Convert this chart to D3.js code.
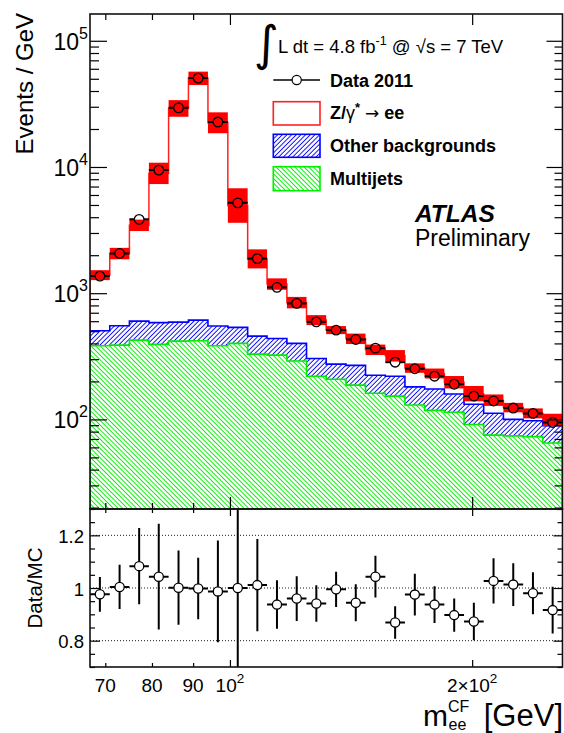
<!DOCTYPE html>
<html>
<head>
<meta charset="utf-8">
<script src="https://cdn.jsdelivr.net/npm/d3@7"></script>
<style>
  html, body { margin: 0; padding: 0; background: #fff; }
  svg { display: block; font-family: "Liberation Sans", Arial, Helvetica, sans-serif; }
</style>
</head>
<body>
<svg id="chart" width="564" height="733"></svg>
<script>
// ---- binning in m_ee (GeV), equal steps in log(m) ----
const binEdges = [67.0, 70.9, 75.0, 79.3, 83.9, 88.8, 93.9, 99.4, 105.2, 111.2, 117.7, 124.5,
                  131.7, 139.4, 147.4, 156.0, 165.0, 174.6, 184.7, 195.4, 206.7, 218.7, 231.4, 244.8, 259.0];

// ---- events / GeV per bin ----
const dataEvents = [1366, 2067, 3845, 9450, 29440, 50600, 22700, 5200, 1880, 1112, 830, 593,
                    510, 430, 367, 284, 252, 220, 190, 153, 140, 123, 111.6, 94.5];
const multijets  = [383, 388, 425, 393, 417, 420, 383, 400, 329, 323, 290, 220,
                    208, 187, 161, 153, 130, 118, 114, 91, 75, 74, 73, 65];
const otherBkg   = [121, 164, 176, 192, 173, 192, 166, 136, 128, 115, 110, 84,
                    66, 81, 63, 67, 51, 56, 45, 41, 37, 26, 24.5, 24];
const zee        = [886, 1508, 2849, 8315, 28510, 49790, 21850, 4414, 1413, 743, 442, 308,
                    236, 167, 132, 99, 74, 57, 38, 28, 30, 24, 14.1, 10];
// relative uncertainty of the total prediction
const mcRelUnc   = [0.095, 0.11, 0.11, 0.215, 0.164, 0.13, 0.21, 0.37, 0.19, 0.11, 0.11, 0.095,
                    0.076, 0.10, 0.10, 0.11, 0.09, 0.095, 0.12, 0.15, 0.11, 0.09, 0.095, 0.12];

// ---- Data/MC ratio ----
const ratio    = [0.976, 1.004, 1.083, 1.043, 1.001, 0.998, 0.987, 1.000, 1.011, 0.937, 0.960, 0.941,
                  0.995, 0.944, 1.043, 0.869, 0.975, 0.937, 0.897, 0.873, 1.027, 1.013, 0.980, 0.916];
const ratioErr = [0.066, 0.084, 0.145, 0.201, 0.141, 0.117, 0.193, 0.45, 0.175, 0.092, 0.085, 0.069,
                  0.067, 0.070, 0.079, 0.062, 0.079, 0.070, 0.063, 0.071, 0.086, 0.081, 0.080, 0.089];

// ---- axis ticks ----
const xTicksLong  = [100, 200];
const xTicksShort = [70, 80, 90];
const xTickLabels = [[70, "70"], [80, "80"], [90, "90"], [100, "10", "2"], [200, "2\u00d710", "2"]];
const yDecades    = [100, 1000, 10000, 100000];
const ratioLabels = [0.8, 1.0, 1.2];
const ratioTicks  = [0.7, 0.75, 0.8, 0.85, 0.9, 0.95, 1.0, 1.05, 1.1, 1.15, 1.2, 1.25, 1.3];

// ---- legend ----
const legendLumi = { pre: "L dt = 4.8 fb", sup: "-1", post: " @ \u221As = 7 TeV" };

// ---------------------------------------------------------------
const svg = d3.select("#chart");
const plotL = 90, plotR = 562.5, mainT = 14, mainB = 509, ratioB = 667;

const x  = d3.scaleLog().domain([binEdges[0], binEdges[binEdges.length - 1]]).range([plotL, plotR]);
const y  = d3.scaleLog().domain([19.5, 1.63e5]).range([mainB, mainT]);
const yr = d3.scaleLinear().domain([0.7, 1.3]).range([ratioB, mainB]);

const rows = dataEvents.map((d, i) => ({
  lo: binEdges[i], hi: binEdges[i + 1], data: d,
  multijets: multijets[i], other: otherBkg[i], zee: zee[i]
}));
const stacked = d3.stack().keys(["multijets", "other", "zee"])(rows);
const greenTop = stacked[0].map(s => s[1]);
const blueTop  = stacked[1].map(s => s[1]);
const total    = stacked[2].map(s => s[1]);

// hatch patterns
const defs = svg.append("defs");
function hatch(id, color, angle) {
  const p = defs.append("pattern").attr("id", id)
    .attr("patternUnits", "userSpaceOnUse").attr("width", 3.3).attr("height", 10)
    .attr("patternTransform", `rotate(${angle})`);
  p.append("line").attr("x1", 1.2).attr("x2", 1.2).attr("y1", 0).attr("y2", 10)
    .attr("stroke", color).attr("stroke-width", 0.95);
}
hatch("hatchBlue", "#0000ff", 45);
hatch("hatchGreen", "#00ee00", -45);

defs.append("clipPath").attr("id", "clipMain").append("rect")
  .attr("x", plotL).attr("y", mainT).attr("width", plotR - plotL).attr("height", mainB - mainT);
defs.append("clipPath").attr("id", "clipRatio").append("rect")
  .attr("x", plotL).attr("y", mainB).attr("width", plotR - plotL).attr("height", ratioB - mainB);

// step helpers: points at each low edge + closing high edge
function stepPoints(vals) {
  const pts = vals.map((v, i) => [binEdges[i], v]);
  pts.push([binEdges[binEdges.length - 1], vals[vals.length - 1]]);
  return pts;
}
const stepLine = d3.line().curve(d3.curveStepAfter).x(d => x(d[0])).y(d => d[1]);

const main = svg.append("g").attr("clip-path", "url(#clipMain)");

// Z/gamma* -> ee (top of stack) outline
{
  const pts = stepPoints(total).map(p => [p[0], y(p[1])]);
  pts.unshift([binEdges[0], y(blueTop[0])]);
  pts.push([binEdges[binEdges.length - 1], y(blueTop[blueTop.length - 1])]);
  main.append("path").attr("d", stepLine(pts))
    .attr("fill", "none").attr("stroke", "#ff2020").attr("stroke-width", 1.5);
}

// other backgrounds band (between multijet top and its own top)
const bandArea = d3.area().curve(d3.curveStepAfter)
  .x(d => x(d.e)).y0(d => y(d.lo)).y1(d => y(d.hi));
const blueBand = greenTop.map((g, i) => ({ e: binEdges[i], lo: g, hi: blueTop[i] }));
blueBand.push({ e: binEdges[binEdges.length - 1], lo: greenTop[greenTop.length - 1], hi: blueTop[blueTop.length - 1] });
main.append("path").attr("d", bandArea(blueBand)).attr("fill", "url(#hatchBlue)");
{
  const pts = stepPoints(blueTop).map(p => [p[0], y(p[1])]);
  pts.unshift([binEdges[0], mainB + 3]);
  pts.push([binEdges[binEdges.length - 1], mainB + 3]);
  main.append("path").attr("d", stepLine(pts))
    .attr("fill", "none").attr("stroke", "#0000ff").attr("stroke-width", 1.6);
}

// multijets
const greenBand = greenTop.map((g, i) => ({ e: binEdges[i], lo: 10, hi: g }));
greenBand.push({ e: binEdges[binEdges.length - 1], lo: 10, hi: greenTop[greenTop.length - 1] });
main.append("path").attr("d", bandArea(greenBand)).attr("fill", "url(#hatchGreen)");
{
  const pts = stepPoints(greenTop).map(p => [p[0], y(p[1])]);
  pts.unshift([binEdges[0], mainB + 3]);
  pts.push([binEdges[binEdges.length - 1], mainB + 3]);
  main.append("path").attr("d", stepLine(pts))
    .attr("fill", "none").attr("stroke", "#00ee00").attr("stroke-width", 1.6);
}

// uncertainty band on the total prediction
main.selectAll("rect.unc").data(rows).enter().append("rect").attr("class", "unc")
  .attr("x", d => x(d.lo))
  .attr("width", d => x(d.hi) - x(d.lo))
  .attr("y", (d, i) => y(total[i] * (1 + mcRelUnc[i])))
  .attr("height", (d, i) => y(total[i] / (1 + mcRelUnc[i])) - y(total[i] * (1 + mcRelUnc[i])))
  .attr("fill", "#ff0000");

// data points
const R = 4.8;
const dataG = main.append("g");
rows.forEach(d => {
  const cx = x(Math.sqrt(d.lo * d.hi)), cy = y(d.data);
  dataG.append("line").attr("x1", x(d.lo)).attr("x2", cx - R).attr("y1", cy).attr("y2", cy)
    .attr("stroke", "#000").attr("stroke-width", 2);
  dataG.append("line").attr("x1", cx + R).attr("x2", x(d.hi)).attr("y1", cy).attr("y2", cy)
    .attr("stroke", "#000").attr("stroke-width", 2);
  dataG.append("circle").attr("cx", cx).attr("cy", cy).attr("r", R)
    .attr("fill", "none").attr("stroke", "#000").attr("stroke-width", 1.3);
});

// ---------------- ratio panel ----------------
const rg = svg.append("g");
ratioLabels.forEach(v => {
  rg.append("line").attr("x1", plotL).attr("x2", plotR).attr("y1", yr(v)).attr("y2", yr(v))
    .attr("stroke", "#000").attr("stroke-width", 0.9).attr("stroke-dasharray", "1,2");
});
const rpts = svg.append("g").attr("clip-path", "url(#clipRatio)");
rows.forEach((d, i) => {
  const cx = x(Math.sqrt(d.lo * d.hi)), cy = yr(ratio[i]);
  const r = 4.6;
  rpts.append("line").attr("x1", x(d.lo)).attr("x2", x(d.hi)).attr("y1", cy).attr("y2", cy)
    .attr("stroke", "#000").attr("stroke-width", 2);
  rpts.append("line").attr("x1", cx).attr("x2", cx)
    .attr("y1", yr(ratio[i] + ratioErr[i])).attr("y2", yr(ratio[i] - ratioErr[i]))
    .attr("stroke", "#000").attr("stroke-width", 2);
  rpts.append("circle").attr("cx", cx).attr("cy", cy).attr("r", r)
    .attr("fill", "#fff").attr("stroke", "#000").attr("stroke-width", 1.3);
});

// ---------------- axes ----------------
function ticks(axisGen, tx, ty, size) {
  const g = svg.append("g").attr("transform", `translate(${tx},${ty})`)
    .call(axisGen.tickSize(size).tickFormat(""));
  g.select(".domain").remove();
  g.selectAll(".tick line").attr("stroke", "#000").attr("stroke-width", 1.2);
  return g;
}
const yMinor = [];
for (let e = 1; e <= 5; e++) for (let m = 2; m <= 9; m++) {
  const v = m * Math.pow(10, e);
  if (v >= y.domain()[0] && v <= y.domain()[1]) yMinor.push(v);
}
// main panel y
ticks(d3.axisLeft(y).tickValues(yDecades), plotL, 0, -17);
ticks(d3.axisLeft(y).tickValues(yMinor), plotL, 0, -9);
ticks(d3.axisRight(y).tickValues(yDecades), plotR, 0, -16);
ticks(d3.axisRight(y).tickValues(yMinor), plotR, 0, -8);
// main panel x (top and bottom)
ticks(d3.axisTop(x).tickValues(xTicksLong), 0, mainT, -11);
ticks(d3.axisTop(x).tickValues(xTicksShort), 0, mainT, -6);
ticks(d3.axisBottom(x).tickValues(xTicksLong), 0, mainB, -12);
ticks(d3.axisBottom(x).tickValues(xTicksShort), 0, mainB, -6);
// ratio panel
const rMinor = ratioTicks.filter(v => !ratioLabels.some(l => Math.abs(l - v) < 1e-6));
ticks(d3.axisLeft(yr).tickValues(ratioLabels), plotL, 0, -10);
ticks(d3.axisLeft(yr).tickValues(rMinor), plotL, 0, -5);
ticks(d3.axisRight(yr).tickValues(ratioLabels), plotR, 0, -9);
ticks(d3.axisRight(yr).tickValues(rMinor), plotR, 0, -5);
ticks(d3.axisTop(x).tickValues(xTicksLong), 0, mainB, -7);
ticks(d3.axisTop(x).tickValues(xTicksShort), 0, mainB, -4);
ticks(d3.axisBottom(x).tickValues(xTicksLong), 0, ratioB, -7);
ticks(d3.axisBottom(x).tickValues(xTicksShort), 0, ratioB, -4);

// frames
[[mainT, mainB], [mainB, ratioB]].forEach(([t, b]) => {
  svg.append("rect").attr("x", plotL).attr("y", t).attr("width", plotR - plotL).attr("height", b - t)
    .attr("fill", "none").attr("stroke", "#111").attr("stroke-width", 1.6);
});

// y labels (main)
yDecades.forEach(v => {
  const t = svg.append("text").attr("x", 88).attr("y", y(v) + 9).attr("text-anchor", "end")
    .attr("fill", "#000");
  t.append("tspan").attr("font-size", 23).text("10");
  t.append("tspan").attr("font-size", 16).attr("dy", -11).text(String(Math.round(Math.log10(v))));
});
// y labels (ratio)
ratioLabels.forEach(v => {
  svg.append("text").attr("x", 84).attr("y", yr(v) + 7.5).attr("text-anchor", "end")
    .attr("font-size", 18.5).attr("fill", "#000").text(d3.format("~g")(v));
});
// x labels
xTickLabels.forEach(([v, base, sup]) => {
  const t = svg.append("text").attr("x", x(v)).attr("y", 692).attr("text-anchor", "middle")
    .attr("fill", "#000");
  t.append("tspan").attr("font-size", 19).text(base);
  if (sup) t.append("tspan").attr("font-size", 13.5).attr("dy", -9).text(sup);
});

// axis titles
svg.append("text").attr("transform", "translate(33,13) rotate(-90)").attr("text-anchor", "end")
  .attr("font-size", 24).attr("fill", "#000").text("Events / GeV");
svg.append("text").attr("transform", "translate(42,588) rotate(-90)").attr("text-anchor", "middle")
  .attr("font-size", 20.5).attr("fill", "#000").text("Data/MC");

svg.append("text").attr("x", 423).attr("y", 726.3).attr("font-size", 30).attr("fill", "#000").text("m");
svg.append("text").attr("x", 448).attr("y", 711.5).attr("font-size", 16).attr("fill", "#000").text("CF");
svg.append("text").attr("x", 448.5).attr("y", 729.5).attr("font-size", 16).attr("fill", "#000").text("ee");
svg.append("text").attr("x", 563).attr("y", 726.3).attr("text-anchor", "end")
  .attr("font-size", 31).attr("fill", "#000").text("[GeV]");

// ---------------- legend ----------------
svg.append("text").attr("x", 279).attr("y", 60).attr("font-size", 48).attr("text-anchor", "end")
  .attr("font-family", "DejaVu Sans").attr("fill", "#000").text("\u222B");
{
  const t = svg.append("text").attr("x", 278).attr("y", 53.3).attr("font-size", 18.5).attr("fill", "#000");
  t.append("tspan").text(legendLumi.pre);
  t.append("tspan").attr("font-size", 12.5).attr("dy", -8).text(legendLumi.sup);
  t.append("tspan").attr("dy", 8).text(legendLumi.post);
}
const legX = 273.3, legW = 46.7, labX = 330;
// data entry
svg.append("line").attr("x1", legX).attr("x2", 296.7 - 4.6).attr("y1", 80).attr("y2", 80)
  .attr("stroke", "#000").attr("stroke-width", 1.5);
svg.append("line").attr("x1", 296.7 + 4.6).attr("x2", legX + legW).attr("y1", 80).attr("y2", 80)
  .attr("stroke", "#000").attr("stroke-width", 1.5);
svg.append("circle").attr("cx", 296.7).attr("cy", 80).attr("r", 4.6)
  .attr("fill", "none").attr("stroke", "#000").attr("stroke-width", 1.2);
svg.append("text").attr("x", labX).attr("y", 87.3).attr("font-size", 18).attr("font-weight", "bold")
  .attr("fill", "#000").text("Data 2011");
// Z entry
svg.append("rect").attr("x", legX).attr("y", 101.7).attr("width", legW).attr("height", 23.3)
  .attr("fill", "#fff").attr("stroke", "#ff2020").attr("stroke-width", 1.6);
{
  const t = svg.append("text").attr("x", labX).attr("y", 118.5).attr("font-size", 18).attr("fill", "#000");
  t.append("tspan").attr("font-weight", "bold").text("Z/");
  t.append("tspan").text("\u03B3");
  t.append("tspan").attr("font-weight", "bold").attr("font-size", 13).attr("dy", -7).text("*");
  t.append("tspan").attr("dy", 7).text(" ");
  t.append("tspan").attr("font-family", "DejaVu Sans").attr("font-size", 17).text("\u2192");
  t.append("tspan").attr("font-weight", "bold").text(" ee");
}
// other backgrounds
svg.append("rect").attr("x", legX).attr("y", 134.3).attr("width", legW).attr("height", 23)
  .attr("fill", "url(#hatchBlue)").attr("stroke", "#0000ff").attr("stroke-width", 1.6);
svg.append("text").attr("x", labX).attr("y", 151.7).attr("font-size", 18).attr("font-weight", "bold")
  .attr("fill", "#000").text("Other backgrounds");
// multijets
svg.append("rect").attr("x", legX).attr("y", 166.7).attr("width", legW).attr("height", 24)
  .attr("fill", "url(#hatchGreen)").attr("stroke", "#00ee00").attr("stroke-width", 1.6);
svg.append("text").attr("x", labX).attr("y", 185).attr("font-size", 18).attr("font-weight", "bold")
  .attr("fill", "#000").text("Multijets");

svg.append("text").attr("x", 415).attr("y", 221.7).attr("font-size", 24.5)
  .attr("font-weight", "bold").attr("font-style", "italic").attr("fill", "#000").text("ATLAS");
svg.append("text").attr("x", 415).attr("y", 246).attr("font-size", 23)
  .attr("fill", "#000").text("Preliminary");
</script>
</body>
</html>
